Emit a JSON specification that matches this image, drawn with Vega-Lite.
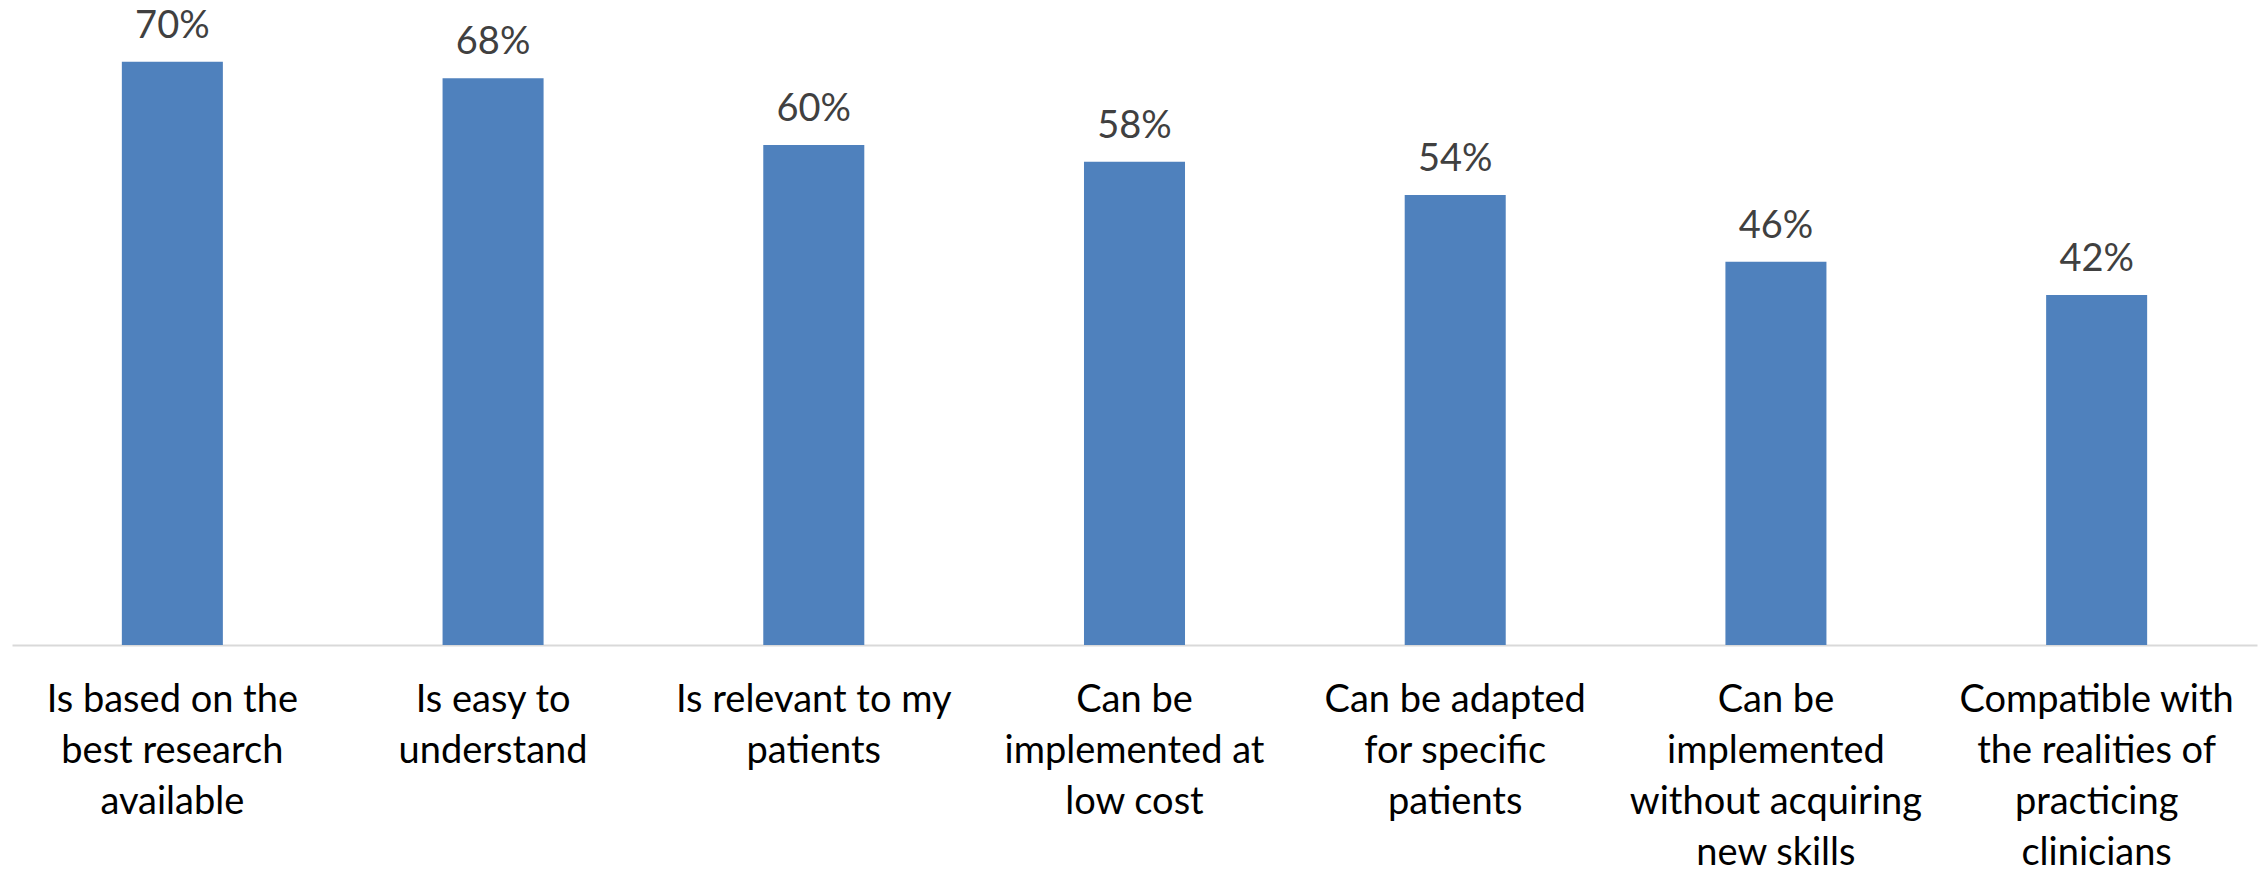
{
  "$schema": "https://vega.github.io/schema/vega-lite/v6.json",
  "width": 2245,
  "height": 645,
  "autosize": {"type": "none"},
  "padding": {"left": 12, "top": 0, "right": 10, "bottom": 228},
  "background": "white",
  "config": {
    "view": {"stroke": null},
    "font": "Lato"
  },
  "data": {
    "values": [
      {"item": "Is based on the|best research|available", "share": 0.70},
      {"item": "Is easy to|understand", "share": 0.68},
      {"item": "Is relevant to my|patients", "share": 0.60},
      {"item": "Can be|implemented at|low cost", "share": 0.58},
      {"item": "Can be adapted|for specific|patients", "share": 0.54},
      {"item": "Can be|implemented|without acquiring|new skills", "share": 0.46},
      {"item": "Compatible with|the realities of|practicing|clinicians", "share": 0.42}
    ]
  },
  "encoding": {
    "x": {
      "field": "item",
      "type": "nominal",
      "sort": null,
      "scale": {"paddingInner": 0.685, "paddingOuter": 0.3425},
      "axis": {
        "title": null,
        "labelAngle": 0,
        "labelExpr": "split(datum.label, '|')",
        "labelFont": "Lato",
        "labelFontSize": 38,
        "labelColor": "#000000",
        "labelBaseline": "alphabetic",
        "labelLineHeight": 51,
        "labelPadding": 66,
        "labelLimit": 0,
        "ticks": false,
        "tickSize": 0,
        "domainColor": "#D9D9D9",
        "domainWidth": 2,
        "grid": false
      }
    },
    "y": {
      "field": "share",
      "type": "quantitative",
      "scale": {"domain": [0, 0.774], "nice": false},
      "axis": null
    }
  },
  "layer": [
    {"mark": {"type": "bar", "color": "#4F81BD"}},
    {
      "mark": {"type": "text", "baseline": "alphabetic", "dy": -24, "fontSize": 38, "color": "#404040", "font": "Lato"},
      "encoding": {"text": {"field": "share", "type": "quantitative", "format": ".0%"}}
    }
  ]
}
